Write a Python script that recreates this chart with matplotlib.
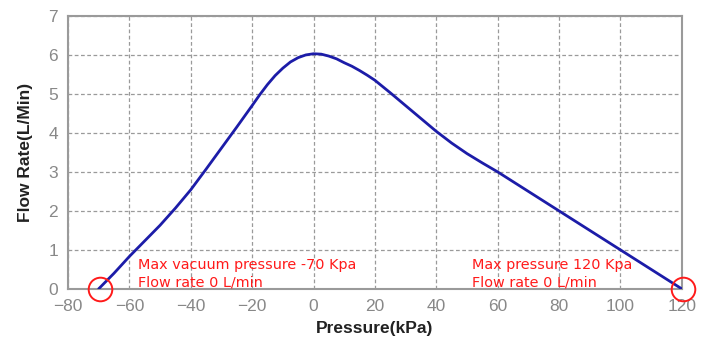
import matplotlib
matplotlib.use('Agg')
import matplotlib.pyplot as plt

# Curve
pressure = [-70, -65, -60, -55, -50, -45, -40, -35, -30, -25, -20, -17.5,
            -15, -12.5, -10, -7.5, -5, -2.5, 0, 2.5, 5, 7.5, 10, 12.5, 15,
            17.5, 20, 25, 30, 35, 40, 45, 50, 55, 60, 70, 80, 90, 100,
            110, 120]
flow = [0.0, 0.4, 0.83, 1.23, 1.63, 2.07, 2.54, 3.07, 3.61, 4.15, 4.7, 4.98,
        5.24, 5.47, 5.66, 5.82, 5.93, 6.0, 6.03, 6.02, 5.97, 5.9, 5.8, 5.71,
        5.6, 5.48, 5.35, 5.03, 4.7, 4.37, 4.04, 3.74, 3.47, 3.23, 3.0,
        2.5, 2.0, 1.5, 1.0, 0.5, 0.0]

x_ticks = [-80, -60, -40, -20, 0, 20, 40, 60, 80, 100, 120]
y_ticks = [0, 1, 2, 3, 4, 5, 6, 7]

limit_points_x = [-69.5, 120.3]
limit_points_y = [0, 0]
notes = [("Max vacuum pressure -70 Kpa\nFlow rate 0 L/min", -57.2),
         ("Max pressure 120 Kpa\nFlow rate 0 L/min", 51.7)]

GRID = '#9a9a9a'
TICK = '#888888'

fig = plt.figure(figsize=(7.08, 3.54), dpi=100)
ax = fig.add_axes([0.096, 0.184, 0.867, 0.771])

ax.plot(pressure, flow, color='#1c1ca8', linewidth=2.0, zorder=3,
        solid_capstyle='round', solid_joinstyle='round')

# red circles marking the end points
ax.plot(limit_points_x, limit_points_y, linestyle='none', marker='o',
        markersize=17, markerfacecolor='none', markeredgecolor='#ff1a1a',
        markeredgewidth=1.4, clip_on=False, zorder=4)

for txt, x0 in notes:
    ax.text(x0, 0.07, txt, color='#ff1a1a', fontsize=10.4,
            family='DejaVu Sans', ha='left', va='baseline', linespacing=1.32,
            zorder=5)

ax.set_xlim(-80, 120)
ax.set_ylim(0, 7)
ax.set_xticks(x_ticks)
ax.set_yticks(y_ticks)
ax.tick_params(length=0, labelsize=12.5, labelcolor=TICK)
ax.tick_params(axis='x', pad=7)
ax.tick_params(axis='y', pad=7)
for lbl in ax.get_xticklabels() + ax.get_yticklabels():
    lbl.set_family('Liberation Sans')

ax.grid(True, color=GRID, linestyle=(0, (3, 2)), linewidth=0.9)
ax.set_axisbelow(True)
for sp in ax.spines.values():
    sp.set_color(GRID)
    sp.set_linewidth(1.5)

ax.set_xlabel('Pressure(kPa)', fontsize=12.5, fontweight='bold',
              family='Liberation Sans', color='#222222', labelpad=5)
ax.set_ylabel('Flow Rate(L/Min)', fontsize=12.5, fontweight='bold',
              family='Liberation Sans', color='#222222', labelpad=11)

fig.savefig('out.png', dpi=100)
